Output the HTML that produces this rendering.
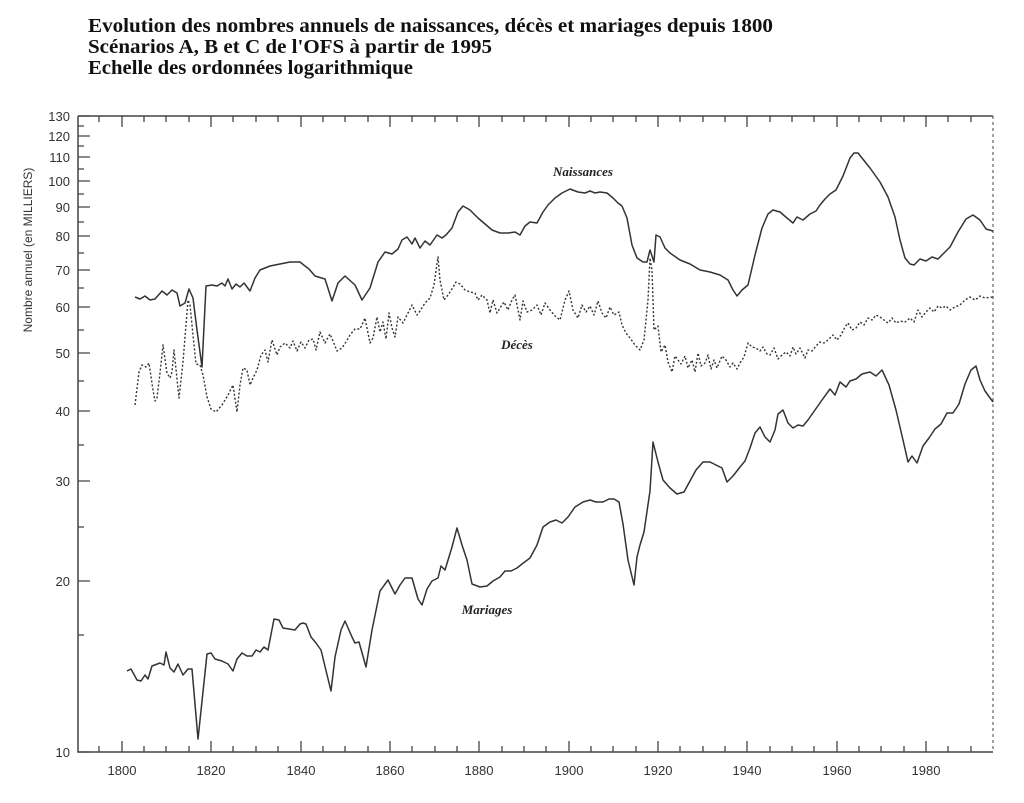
<!DOCTYPE html>
<html><head><meta charset="utf-8"><style>
body{margin:0;background:#fff;width:1024px;height:803px;overflow:hidden}
svg{display:block}
</style></head><body>
<svg width="1024" height="803" xmlns="http://www.w3.org/2000/svg">
<g font-family="Liberation Serif, serif" font-weight="bold" font-size="20" fill="#111">
<text x="88" y="32" textLength="685" lengthAdjust="spacingAndGlyphs">Evolution des nombres annuels de naissances, décès et mariages depuis 1800</text>
<text x="88" y="53" textLength="404" lengthAdjust="spacingAndGlyphs">Scénarios A, B et C de l'OFS à partir de 1995</text>
<text x="88" y="74" textLength="325" lengthAdjust="spacingAndGlyphs">Echelle des ordonnées logarithmique</text>
</g>
<g stroke="#444" stroke-width="1.5" fill="none">
<path d="M78 116V752H993M78 116H993"/>
<path d="M993 116V752" stroke-dasharray="3,3" stroke-width="1"/>
</g>
<g stroke="#444" stroke-width="1.3">
<path d="M78 752h12M78 581h12M78 481h12M78 411h12M78 353h12M78 307h12M78 270h12M78 236h12M78 207h12M78 181h12M78 157h12M78 136h12M78 116h12"/>
<path d="M78 635h6M78 527h6M78 445h6M78 381h6M78 330h6M78 288h6M78 253h6M78 222h6M78 194h6M78 169h6M78 146h6M78 126h6"/>
<path d="M122 752v-11M211 752v-11M301 752v-11M390 752v-11M479 752v-11M569 752v-11M658 752v-11M747 752v-11M837 752v-11M926 752v-11"/>
<path d="M99 752v-6M144 752v-6M166 752v-6M189 752v-6M233 752v-6M256 752v-6M278 752v-6M323 752v-6M345 752v-6M368 752v-6M412 752v-6M435 752v-6M457 752v-6M502 752v-6M524 752v-6M546 752v-6M591 752v-6M613 752v-6M636 752v-6M680 752v-6M703 752v-6M725 752v-6M770 752v-6M792 752v-6M814 752v-6M859 752v-6M881 752v-6M904 752v-6M948 752v-6M971 752v-6"/>
<path d="M122 116v11M211 116v11M301 116v11M390 116v11M479 116v11M569 116v11M658 116v11M747 116v11M837 116v11M926 116v11"/>
<path d="M99 116v6M144 116v6M166 116v6M189 116v6M233 116v6M256 116v6M278 116v6M323 116v6M345 116v6M368 116v6M412 116v6M435 116v6M457 116v6M502 116v6M524 116v6M546 116v6M591 116v6M613 116v6M636 116v6M680 116v6M703 116v6M725 116v6M770 116v6M792 116v6M814 116v6M859 116v6M881 116v6M904 116v6M948 116v6M971 116v6"/>
</g>
<g font-family="Liberation Sans, sans-serif" font-size="13" fill="#333" text-anchor="end">
<text x="70" y="757">10</text><text x="70" y="586">20</text><text x="70" y="486">30</text><text x="70" y="416">40</text><text x="70" y="358">50</text><text x="70" y="312">60</text><text x="70" y="275">70</text><text x="70" y="241">80</text><text x="70" y="212">90</text><text x="70" y="186">100</text><text x="70" y="162">110</text><text x="70" y="141">120</text><text x="70" y="121">130</text>
</g>
<g font-family="Liberation Sans, sans-serif" font-size="13" fill="#333" text-anchor="middle">
<text x="122" y="775">1800</text><text x="211" y="775">1820</text><text x="301" y="775">1840</text><text x="390" y="775">1860</text><text x="479" y="775">1880</text><text x="569" y="775">1900</text><text x="658" y="775">1920</text><text x="747" y="775">1940</text><text x="837" y="775">1960</text><text x="926" y="775">1980</text>
</g>
<text transform="translate(32,250) rotate(-90)" font-family="Liberation Sans, sans-serif" font-size="12" fill="#333" text-anchor="middle">Nombre annuel (en MILLIERS)</text>
<g font-family="Liberation Serif, serif" font-weight="bold" font-style="italic" font-size="13" fill="#222" text-anchor="middle">
<text x="583" y="176">Naissances</text><text x="517" y="349">Décès</text><text x="487" y="614">Mariages</text>
</g>
<g fill="none" stroke="#333" stroke-width="1.5" stroke-linejoin="round">
<polyline points="135,297 140,299 145,296 150,300 155,299 162,291 167,295 172,290 177,293 180,306 185,303 189,289 193,298 197,330 202,367 206,286 212,285 217,286 222,283 225,286 228,279 232,289 236,284 240,287 244,283 250,291 255,278 260,270 270,266 280,264 290,262 300,262 305,266 309,269 315,276 325,279 332,301 338,283 345,276 355,285 362,300 370,288 378,262 385,252 392,254 398,249 402,240 407,237 412,244 415,238 420,248 425,241 430,245 437,235 442,238 446,235 452,228 458,212 463,206 470,210 478,218 485,224 492,230 500,233 508,233 515,232 520,235 525,226 530,222 537,223 543,212 548,205 555,198 562,193 570,189 578,192 585,193 590,191 595,193 600,192 607,193 613,198 618,203 622,206 627,218 632,245 637,258 643,262 647,262 650,250 654,262 656,235 660,237 665,248 670,253 680,260 690,264 700,270 710,272 720,275 728,280 733,290 737,296 742,290 748,285 755,255 762,228 768,214 773,210 780,212 787,218 793,223 797,217 803,220 810,214 816,211 820,205 825,199 830,194 836,190 843,176 850,158 854,153 858,153 862,158 870,168 880,182 888,197 895,217 900,240 905,258 910,264 914,265 920,259 926,261 932,257 938,259 944,253 950,247 958,232 966,219 973,215 980,220 986,229 993,231"/>
<polyline points="127,671 131,669 137,680 141,681 145,675 148,679 152,666 160,663 164,665 166,652 170,668 174,672 178,664 183,675 188,669 192,669 198,739 207,654 211,653 215,659 222,661 228,664 233,671 237,659 242,653 247,656 252,656 256,650 260,652 264,647 268,650 274,619 279,620 283,628 295,630 300,624 303,623 306,624 311,637 316,643 321,650 331,691 335,657 341,630 345,621 352,637 355,643 359,642 366,667 372,630 380,591 388,580 395,594 400,585 405,578 412,578 418,599 422,605 427,589 432,581 438,578 441,566 445,570 452,547 457,528 462,545 467,560 472,584 480,587 487,586 493,581 500,577 505,571 511,571 517,568 522,564 530,558 537,545 543,527 550,522 556,520 562,523 568,517 575,507 583,502 590,500 596,502 603,502 609,499 614,499 619,502 623,524 628,560 634,585 637,557 640,545 644,532 650,491 653,442 658,462 663,480 670,488 677,494 684,492 690,481 696,470 703,462 710,462 716,465 722,468 727,482 733,476 740,467 745,461 750,448 755,433 760,427 765,437 770,442 775,430 778,414 783,410 788,423 793,428 798,425 803,426 808,420 815,410 822,400 830,389 835,395 840,382 846,387 850,381 856,379 862,374 870,372 876,376 882,370 889,385 896,410 903,440 908,462 912,456 917,463 923,446 929,438 935,429 941,424 947,413 953,413 959,404 965,384 971,370 976,366 980,380 985,391 993,402"/>
<polyline stroke-dasharray="2,2" stroke-width="1.4" points="135,405 139,372 142,365 146,367 149,363 153,390 155,401 157,398 160,373 163,345 167,373 170,378 172,372 174,350 177,379 179,398 183,362 188,300 190,305 193,335 196,364 200,365 203,375 207,397 211,409 216,412 222,405 228,395 233,385 237,412 240,385 243,368 247,370 250,385 253,378 257,370 261,355 265,350 268,362 272,340 277,355 280,347 285,343 290,348 293,341 297,351 301,342 305,348 309,340 313,339 316,350 320,332 325,343 330,334 333,341 337,351 342,348 346,342 350,335 355,329 360,329 365,318 370,343 373,338 377,317 380,332 383,322 386,339 389,313 392,328 395,337 398,317 403,323 408,313 412,305 417,315 420,311 425,303 430,298 434,285 438,257 440,280 444,300 448,295 452,289 456,282 460,284 465,290 470,292 475,293 478,300 482,295 487,300 490,313 493,300 497,313 500,308 504,302 508,310 512,300 515,295 520,320 523,301 527,312 532,310 537,305 541,315 545,303 550,310 555,316 560,320 565,300 569,291 573,310 578,318 582,305 586,312 590,306 594,315 598,301 602,313 606,318 610,307 614,315 619,312 622,325 626,333 630,338 635,345 640,350 644,340 648,300 650,258 652,270 654,330 658,326 661,352 665,345 668,362 672,372 675,356 678,360 681,364 685,356 688,368 692,360 695,372 698,353 701,366 705,363 708,355 711,369 714,360 717,368 722,356 726,360 730,367 733,363 737,369 740,363 744,357 748,343 752,347 756,348 760,351 763,347 767,354 770,355 774,348 778,359 782,355 786,352 790,356 793,347 796,354 800,348 805,358 808,350 812,351 816,346 820,342 824,343 828,340 833,335 837,340 841,335 845,327 848,323 852,330 856,328 860,322 864,325 868,318 872,320 876,315 880,317 884,320 888,323 892,318 896,323 900,321 905,322 910,318 914,322 918,310 922,317 926,312 930,308 934,312 938,306 942,308 946,306 950,310 955,307 960,305 965,300 970,297 975,300 980,296 985,298 993,297"/>
</g>
</svg>
</body></html>
